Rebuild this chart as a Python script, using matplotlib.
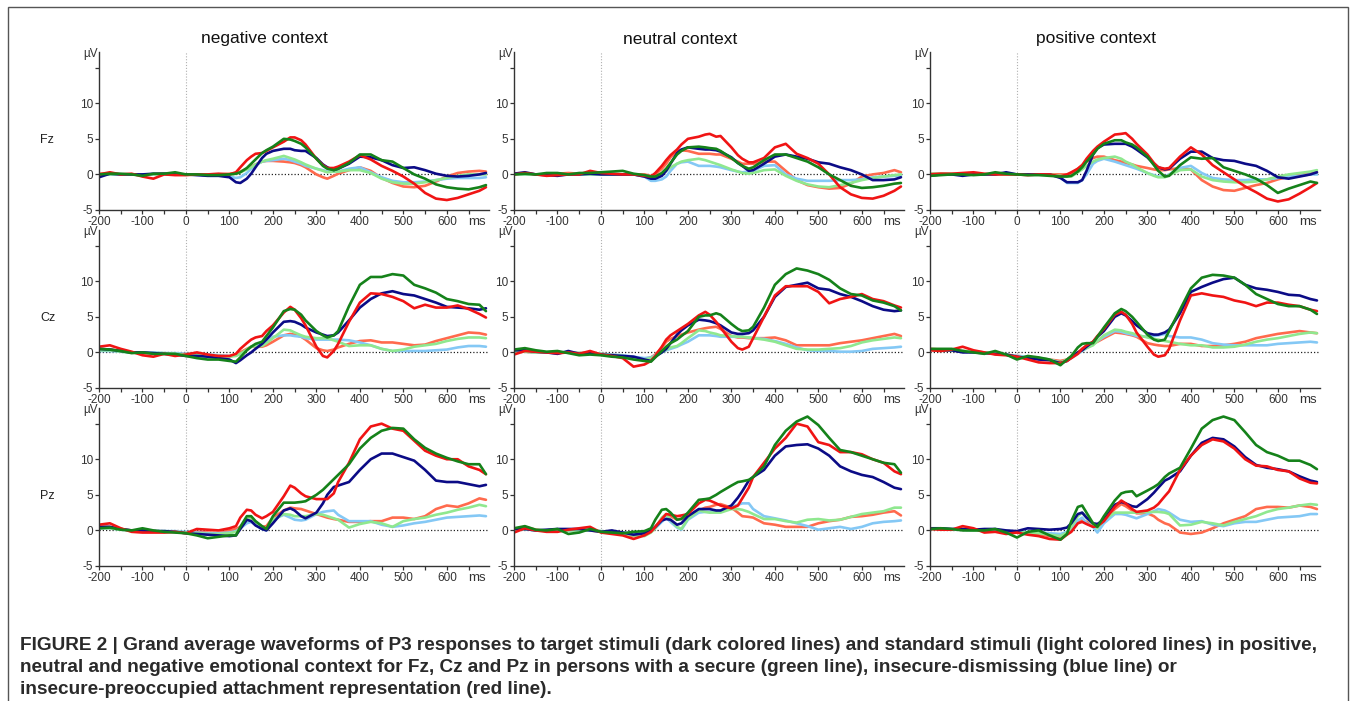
import matplotlib.pyplot as plt
import matplotlib.patches as patches
from matplotlib.ticker import MultipleLocator
import numpy as np

# sample times (ms)
t = [-200, -175, -150, -125, -100, -75, -50, -25, 0,
     25, 50, 75, 100, 115, 125, 140, 150, 160,
     175, 185, 200, 225, 240, 250, 265, 275, 300,
     315, 325, 340, 350, 375, 400, 425, 450, 475,
     500, 525, 550, 575, 600, 625, 650, 675, 690]

contexts = ["negative context", "neutral context", "positive context"]
leads = ["Fz", "Cz", "Pz"]

# target = dark lines, std = light lines
# pre = insecure-preoccupied (red), dis = insecure-dismissing (blue), sec = secure (green)

# ---------------- Fz ----------------
fz_neg = {
    "pre": [0.0, 0.3, 0.0, 0.1, -0.3, -0.6, 0.0, -0.1, -0.1,
            0.0, 0.0, 0.1, 0.0, 0.3, 1.0, 2.0, 2.5, 2.9,
            3.0, 3.3, 3.8, 4.6, 5.2, 5.2, 4.8, 4.2, 2.2,
            1.3, 0.9, 0.9, 1.1, 1.8, 2.7, 2.1, 1.2, 0.5,
            -0.3, -1.3, -2.6, -3.4, -3.6, -3.3, -2.8, -2.3, -1.8],
    "dis": [-0.4, 0.1, 0.0, 0.0, 0.0, 0.1, 0.1, 0.0, 0.0,
            -0.1, -0.2, -0.2, -0.4, -1.1, -1.2, -0.6, 0.1, 1.0,
            2.3, 2.9, 3.3, 3.6, 3.6, 3.4, 3.3, 3.3, 2.3,
            1.4, 1.0, 0.6, 0.8, 1.5, 2.5, 2.4, 2.0, 1.3,
            0.9, 1.0, 0.6, 0.1, -0.2, -0.3, -0.2, 0.0, 0.2],
    "sec": [0.0, 0.1, 0.1, 0.0, -0.2, 0.1, 0.1, 0.3, 0.0,
            0.0, -0.1, -0.1, 0.0, 0.1, 0.3, 0.9, 1.5, 2.1,
            3.0, 3.4, 3.9, 5.0, 4.9, 4.7, 4.3, 3.8, 2.2,
            1.2, 0.8, 0.6, 0.8, 1.6, 2.8, 2.8, 2.0, 1.8,
            0.9, 0.0, -0.6, -1.4, -1.8, -2.0, -2.1, -1.8, -1.5],
    "pre_std": [0.1, 0.1, 0.0, 0.0, 0.0, 0.0, 0.1, 0.0, 0.0,
                0.0, 0.0, 0.0, 0.1, 0.2, 0.4, 0.8, 1.1, 1.4,
                1.8, 1.9, 1.9, 1.8, 1.7, 1.6, 1.3, 1.0, 0.0,
                -0.4, -0.6, -0.2, 0.1, 0.6, 1.0, 0.5, -0.5, -1.2,
                -1.7, -1.8, -1.6, -1.0, -0.3, 0.2, 0.4, 0.5, 0.4],
    "dis_std": [0.0, 0.0, 0.0, 0.0, 0.0, 0.0, 0.0, 0.0, 0.0,
                0.0, 0.0, -0.1, -0.3, -0.5, -0.4, 0.2, 0.8, 1.3,
                1.8, 1.9, 2.0, 2.2, 2.0, 1.8, 1.5, 1.2, 0.8,
                0.6, 0.4, 0.4, 0.4, 0.8, 1.0, 0.3, -0.4, -0.9,
                -1.1, -1.1, -1.0, -0.8, -0.6, -0.5, -0.5, -0.5, -0.4],
    "sec_std": [0.0, 0.0, 0.0, 0.0, 0.0, 0.0, 0.0, 0.0, 0.0,
                0.0, 0.0, 0.0, 0.0, 0.1, 0.3, 0.7, 1.0, 1.4,
                1.8, 2.0, 2.2, 2.6, 2.3, 2.1, 1.7, 1.4, 0.8,
                0.5, 0.3, 0.4, 0.4, 0.6, 0.6, 0.2, -0.6, -1.1,
                -1.3, -1.3, -1.1, -0.8, -0.5, -0.2, 0.0, 0.0, 0.0],
}

fz_neu = {
    "pre": [0.0, 0.2, 0.0, -0.2, -0.1, 0.0, 0.0, 0.5, 0.2,
            0.1, 0.0, 0.0, -0.2, -0.3, 0.2, 1.2, 2.0, 2.7,
            3.5, 4.2, 5.0, 5.3, 5.6, 5.7, 5.3, 5.4, 3.8,
            2.7, 2.2, 1.7, 1.7, 2.3, 3.8, 4.3, 2.9, 2.3,
            1.5, 0.0, -1.8, -2.8, -3.3, -3.4, -3.0, -2.3, -1.7],
    "dis": [0.1, 0.3, 0.0, -0.1, -0.2, 0.0, 0.0, 0.1, 0.0,
            0.0, 0.0, 0.0, -0.3, -0.6, -0.6, -0.2, 0.5, 1.5,
            3.0, 3.5, 3.8, 3.6, 3.5, 3.5, 3.4, 3.2, 2.4,
            1.6, 1.2, 0.5, 0.6, 1.5, 2.5, 2.8, 2.5, 2.2,
            1.7, 1.5, 1.0, 0.6, 0.0, -0.8, -0.8, -0.7, -0.4],
    "sec": [0.0, 0.1, 0.0, 0.2, 0.2, 0.0, 0.2, 0.2, 0.3,
            0.4, 0.5, 0.1, -0.1, -0.3, -0.3, 0.2, 0.8, 1.6,
            2.8, 3.3, 3.8, 3.9, 3.8, 3.7, 3.6, 3.3, 2.3,
            1.6, 1.2, 0.8, 1.0, 2.0, 2.8, 2.8, 2.3, 1.8,
            1.0, 0.0, -0.8, -1.6, -1.9, -1.8, -1.6, -1.3, -1.2],
    "pre_std": [0.1, 0.1, 0.0, 0.0, 0.1, 0.2, 0.1, 0.2, 0.1,
                0.0, 0.0, 0.0, 0.0, -0.2, 0.0, 0.8, 1.5, 2.4,
                3.3, 3.4, 3.3, 2.9, 2.9, 2.9, 2.8, 2.8, 2.2,
                1.8, 1.5, 1.5, 1.5, 1.8, 1.8, 0.5, -0.8, -1.5,
                -1.8, -2.0, -1.9, -1.3, -0.3, 0.0, 0.2, 0.6, 0.3],
    "dis_std": [0.0, 0.0, 0.0, 0.0, 0.0, 0.0, 0.0, 0.0, 0.0,
                0.0, 0.0, 0.0, -0.3, -0.9, -0.9, -0.7, -0.3, 0.5,
                1.5, 1.7, 1.8, 1.2, 1.2, 1.2, 1.1, 1.0, 0.6,
                0.4, 0.3, 0.4, 0.5, 1.2, 1.3, 0.0, -0.6, -0.9,
                -0.9, -0.9, -0.8, -0.8, -0.7, -0.4, -0.3, -0.2, -0.2],
    "sec_std": [0.0, 0.0, 0.0, 0.0, 0.0, 0.0, 0.0, 0.0, 0.0,
                0.0, 0.0, 0.0, -0.2, -0.5, -0.5, 0.0, 0.5, 1.0,
                1.5, 1.8, 2.0, 2.2, 2.0, 1.8, 1.5, 1.3, 0.7,
                0.4, 0.2, 0.1, 0.2, 0.6, 0.7, -0.2, -0.9, -1.4,
                -1.7, -1.8, -1.5, -1.2, -0.8, -0.5, -0.3, -0.1, 0.0],
}

fz_pos = {
    "pre": [0.0, 0.1, 0.1, 0.2, 0.3, 0.1, 0.0, 0.0, 0.0,
            -0.1, 0.0, 0.0, -0.3, 0.0, 0.3, 0.8, 1.3, 2.2,
            3.3, 3.9, 4.6, 5.6, 5.7, 5.8, 5.0, 4.3, 2.8,
            1.6, 1.0, 0.8, 0.9, 2.5, 3.8, 2.8, 1.3, 0.3,
            -0.7, -1.7, -2.5, -3.4, -3.8, -3.5, -2.7, -1.8, -1.2],
    "dis": [-0.2, 0.0, 0.0, -0.2, 0.0, 0.0, 0.0, 0.3, 0.0,
            0.0, 0.0, 0.0, -0.5, -1.1, -1.1, -1.1, -0.8, 0.5,
            2.8, 3.7, 4.2, 4.3, 4.3, 4.3, 3.9, 3.5, 2.4,
            1.5, 1.0, 0.7, 0.8, 2.2, 3.2, 3.2, 2.3, 2.0,
            1.9, 1.5, 1.2, 0.5, -0.4, -0.6, -0.3, 0.0, 0.3],
    "sec": [-0.2, -0.1, 0.0, 0.0, -0.1, 0.0, 0.3, 0.1, 0.0,
            -0.1, -0.1, -0.2, -0.3, -0.3, -0.2, 0.4, 1.0, 1.8,
            2.8, 3.6, 4.3, 4.8, 4.8, 4.5, 4.2, 3.8, 2.5,
            1.3, 0.5, -0.3, -0.2, 1.3, 2.4, 2.2, 2.3, 1.0,
            0.5, 0.0, -0.6, -1.5, -2.6, -2.0, -1.5, -1.0, -1.2],
    "pre_std": [0.1, 0.1, 0.0, 0.0, 0.0, 0.0, 0.0, 0.0, 0.0,
                0.0, 0.0, 0.0, 0.0, 0.0, 0.0, 0.8, 1.3, 1.8,
                2.3, 2.5, 2.5, 2.0, 1.8, 1.6, 1.4, 1.2, 0.9,
                0.7, 0.6, 0.6, 0.7, 0.9, 0.7, -0.8, -1.7, -2.2,
                -2.3, -1.9, -1.5, -1.2, -0.7, -0.3, 0.0, 0.3, 0.3],
    "dis_std": [0.0, 0.0, 0.0, 0.0, 0.0, 0.0, 0.0, 0.0, 0.0,
                0.0, 0.0, 0.0, -0.4, -1.2, -1.2, -1.2, -0.8, 0.0,
                1.5, 1.9, 2.2, 1.8, 1.5, 1.3, 1.0, 0.8, 0.2,
                -0.1, -0.3, -0.3, 0.0, 0.9, 1.2, 0.2, -0.5, -0.7,
                -0.8, -0.8, -0.7, -0.7, -0.5, -0.3, -0.2, 0.0, 0.0],
    "sec_std": [0.1, 0.1, 0.1, 0.0, 0.0, 0.0, 0.0, 0.0, 0.0,
                0.0, 0.0, 0.0, -0.2, -0.3, -0.3, 0.3, 0.7, 1.2,
                1.8, 2.1, 2.3, 2.5, 2.2, 1.8, 1.4, 1.0, 0.2,
                -0.2, -0.4, -0.4, -0.1, 0.6, 0.7, -0.3, -0.8, -1.0,
                -1.1, -1.1, -1.0, -0.7, -0.3, 0.0, 0.2, 0.4, 0.6],
}

# ---------------- Cz ----------------
cz_neg = {
    "pre": [0.8, 1.0, 0.5, 0.1, -0.4, -0.6, -0.2, -0.5, -0.3,
            0.0, -0.3, -0.5, -0.5, -0.2, 0.5, 1.3, 1.8, 2.1,
            2.3, 3.0, 3.8, 5.6, 6.4, 6.0, 4.8, 3.8, 0.8,
            -0.5, -0.7, 0.2, 1.2, 4.3, 7.0, 8.3, 8.2, 7.8,
            7.2, 6.2, 6.7, 6.3, 6.3, 6.6, 6.1, 5.4, 4.9],
    "dis": [0.5, 0.4, 0.2, 0.0, 0.0, -0.1, -0.2, -0.3, -0.5,
            -0.5, -0.6, -0.8, -1.0, -1.5, -1.1, -0.4, 0.0, 0.5,
            1.2, 1.8, 2.8, 4.3, 4.4, 4.3, 3.9, 3.5, 2.8,
            2.5, 2.3, 2.4, 2.8, 4.5, 6.3, 7.5, 8.3, 8.6,
            8.2, 8.0, 7.5, 7.0, 6.4, 6.3, 6.2, 6.0, 6.2],
    "sec": [0.5, 0.4, 0.2, -0.1, 0.0, -0.2, -0.2, -0.2, -0.5,
            -0.8, -1.0, -1.0, -1.2, -1.3, -0.7, 0.3, 0.8, 1.2,
            1.5, 2.3, 3.5, 5.8, 6.1, 6.0, 5.3, 4.5, 3.0,
            2.4, 2.1, 2.4, 3.0, 6.5, 9.5, 10.6, 10.6, 11.0,
            10.8, 9.5, 9.0, 8.4, 7.5, 7.2, 6.8, 6.7, 5.8],
    "pre_std": [0.4, 0.4, 0.2, 0.0, -0.1, -0.1, -0.2, -0.2, -0.2,
                -0.3, -0.4, -0.5, -0.6, -0.3, 0.0, 0.5, 0.8, 0.8,
                0.8, 1.0, 1.5, 2.4, 2.6, 2.5, 2.2, 1.8, 0.6,
                0.3, 0.2, 0.4, 0.7, 1.2, 1.6, 1.7, 1.4, 1.4,
                1.2, 1.0, 1.1, 1.6, 2.0, 2.4, 2.8, 2.7, 2.5],
    "dis_std": [0.2, 0.2, 0.1, 0.0, 0.0, 0.0, -0.1, -0.1, -0.2,
                -0.3, -0.3, -0.4, -0.5, -0.4, -0.3, 0.3, 0.8, 1.0,
                1.2, 1.6, 2.2, 2.4, 2.4, 2.3, 2.2, 2.0, 1.8,
                1.8, 1.8, 1.8, 1.8, 1.7, 1.4, 1.0, 0.5, 0.2,
                0.2, 0.2, 0.2, 0.3, 0.4, 0.7, 0.9, 0.9, 0.8],
    "sec_std": [0.3, 0.3, 0.1, 0.0, 0.0, -0.1, -0.1, -0.2, -0.3,
                -0.4, -0.5, -0.5, -0.6, -0.5, -0.2, 0.4, 0.8, 0.9,
                0.9, 1.3, 2.0, 3.2, 3.1, 2.8, 2.4, 2.2, 2.0,
                2.0, 2.0, 1.7, 1.5, 0.9, 1.0, 1.0, 0.5, 0.2,
                0.4, 0.8, 1.0, 1.2, 1.6, 1.9, 2.1, 2.1, 2.0],
}

cz_neu = {
    "pre": [-0.3, 0.2, 0.1, 0.0, -0.1, 0.0, -0.2, 0.2, -0.3,
            -0.5, -0.8, -2.0, -1.7, -1.2, -0.5, 0.8, 1.8, 2.4,
            3.0, 3.4, 4.0, 5.2, 5.7, 5.3, 4.3, 3.5, 1.5,
            0.6, 0.4, 0.8, 2.0, 5.0, 8.0, 9.3, 9.3, 9.3,
            8.5, 6.9, 7.5, 7.8, 8.2, 7.5, 7.2, 6.6, 6.3],
    "dis": [0.3, 0.3, 0.1, 0.0, -0.2, 0.2, -0.2, -0.1, -0.3,
            -0.4, -0.5, -0.6, -1.0, -1.2, -0.6, 0.0, 0.5, 1.3,
            2.5, 3.1, 3.8, 4.6, 4.5, 4.4, 4.1, 3.8, 2.8,
            2.6, 2.6, 2.7, 3.1, 5.0, 7.8, 9.2, 9.5, 9.8,
            9.0, 8.8, 8.2, 7.8, 7.2, 6.5, 6.0, 5.8, 5.9],
    "sec": [0.4, 0.6, 0.3, 0.1, 0.2, -0.1, -0.4, -0.3, -0.4,
            -0.6, -0.7, -1.0, -1.2, -1.3, -0.7, 0.2, 0.8, 1.3,
            1.8, 2.3, 3.0, 5.0, 5.2, 5.2, 5.5, 5.3, 4.0,
            3.3, 3.0, 3.1, 3.6, 6.3, 9.5, 11.0, 11.8, 11.5,
            11.0, 10.2, 9.0, 8.2, 8.0, 7.3, 7.0, 6.5, 5.9],
    "pre_std": [0.1, 0.1, 0.0, 0.0, -0.1, 0.0, -0.1, 0.0, -0.2,
                -0.3, -0.5, -0.7, -0.9, -0.7, -0.3, 0.7, 1.5, 1.9,
                2.3, 2.5, 2.8, 3.2, 3.4, 3.5, 3.6, 3.3, 2.3,
                2.1, 2.1, 2.0, 2.0, 2.0, 2.1, 1.7, 1.0, 1.0,
                1.0, 1.0, 1.3, 1.5, 1.7, 2.0, 2.3, 2.6, 2.3],
    "dis_std": [0.1, 0.1, 0.0, 0.0, 0.0, 0.0, -0.1, -0.1, -0.2,
                -0.3, -0.4, -0.6, -0.8, -0.7, -0.4, 0.0, 0.3, 0.5,
                0.8, 1.1, 1.5, 2.4, 2.4, 2.4, 2.3, 2.2, 2.2,
                2.2, 2.2, 2.1, 2.0, 1.9, 1.6, 1.2, 0.7, 0.3,
                0.2, 0.2, 0.1, 0.1, 0.2, 0.5, 0.6, 0.7, 0.8],
    "sec_std": [0.1, 0.1, 0.0, 0.0, 0.0, 0.0, -0.1, -0.1, -0.2,
                -0.4, -0.5, -0.8, -1.0, -0.8, -0.5, 0.0, 0.4, 0.7,
                0.9, 1.3, 2.0, 3.1, 3.0, 2.8, 2.6, 2.4, 2.3,
                2.2, 2.2, 2.1, 2.0, 1.8, 1.5, 1.0, 0.5, 0.4,
                0.4, 0.5, 0.6, 0.9, 1.4, 1.7, 1.9, 2.1, 2.0],
}

cz_pos = {
    "pre": [0.3, 0.2, 0.4, 0.8, 0.3, 0.0, -0.3, -0.4, -0.6,
            -1.0, -1.4, -1.5, -1.5, -1.2, -0.8, -0.2, 0.5, 1.0,
            1.5, 2.3, 3.3, 5.3, 5.7, 5.3, 4.0, 2.8, 0.8,
            -0.3, -0.6, -0.4, 0.5, 4.5, 8.0, 8.3, 8.0, 7.8,
            7.3, 7.0, 6.5, 7.0, 7.0, 6.7, 6.5, 6.0, 5.8],
    "dis": [0.4, 0.3, 0.3, 0.0, 0.0, -0.1, -0.2, -0.3, -0.6,
            -0.8, -1.0, -1.1, -1.5, -1.2, -0.7, 0.0, 0.3, 0.8,
            1.5, 2.2, 3.0, 5.0, 5.5, 5.2, 4.4, 3.8, 2.7,
            2.5, 2.5, 2.8, 3.2, 5.5, 8.5, 9.2, 9.8, 10.3,
            10.5, 9.5, 9.0, 8.8, 8.5, 8.1, 8.0, 7.5, 7.3],
    "sec": [0.5, 0.5, 0.5, 0.2, 0.0, -0.2, 0.2, -0.3, -1.0,
            -0.5, -0.7, -1.0, -1.8, -1.0, -0.5, 0.7, 1.2, 1.3,
            1.3, 2.2, 3.5, 5.5, 6.1, 5.8, 5.0, 4.3, 2.5,
            1.8, 1.6, 1.8, 3.0, 6.0, 9.0, 10.5, 10.9, 10.8,
            10.5, 9.5, 8.2, 7.5, 6.8, 6.5, 6.5, 6.0, 5.4],
    "pre_std": [0.5, 0.4, 0.3, 0.2, 0.1, 0.0, -0.2, -0.3, -0.5,
                -0.6, -0.8, -1.0, -1.2, -1.0, -0.6, 0.0, 0.5, 0.8,
                1.2, 1.5, 2.0, 2.8, 2.7, 2.6, 2.4, 2.2, 1.3,
                1.1, 1.0, 0.9, 0.9, 1.2, 1.2, 0.9, 0.9, 1.0,
                1.2, 1.5, 2.0, 2.3, 2.6, 2.8, 3.0, 2.8, 2.7],
    "dis_std": [0.4, 0.3, 0.3, 0.2, 0.1, 0.0, -0.1, -0.3, -0.5,
                -0.6, -0.8, -1.0, -1.5, -1.1, -0.8, -0.2, 0.2, 0.6,
                1.2, 1.6, 2.2, 3.0, 2.9, 2.7, 2.5, 2.3, 2.2,
                2.3, 2.4, 2.6, 2.3, 2.1, 2.1, 1.8, 1.3, 1.1,
                1.0, 1.0, 1.0, 1.0, 1.2, 1.3, 1.4, 1.5, 1.4],
    "sec_std": [0.4, 0.3, 0.3, 0.2, 0.1, 0.0, -0.1, -0.3, -0.6,
                -0.7, -0.8, -1.0, -1.4, -1.0, -0.7, -0.1, 0.3, 0.6,
                1.0, 1.6, 2.4, 3.2, 3.1, 2.9, 2.7, 2.5, 2.1,
                1.9, 1.8, 1.6, 1.5, 1.2, 1.0, 1.0, 0.7, 0.7,
                0.8, 1.1, 1.5, 1.8, 2.0, 2.3, 2.6, 2.8, 2.7],
}

# ---------------- Pz ----------------
pz_neg = {
    "pre": [0.8, 1.0, 0.3, -0.2, -0.3, -0.3, -0.3, -0.2, -0.4,
            0.2, 0.1, 0.0, 0.3, 0.6, 1.8, 2.9, 2.8, 2.2,
            1.7, 2.0, 2.6, 4.8, 6.3, 6.0, 5.2, 4.8, 4.4,
            4.4, 4.4, 5.2, 6.8, 9.5, 12.8, 14.6, 15.0, 14.3,
            14.0, 12.6, 11.2, 10.5, 10.0, 10.0, 9.0, 8.5, 7.9],
    "dis": [0.5, 0.5, 0.2, 0.0, 0.0, -0.1, -0.1, -0.2, -0.4,
            -0.5, -0.6, -0.7, -0.8, -0.7, 0.2, 1.5, 1.3, 0.7,
            0.2, 0.0, 1.0, 2.8, 3.1, 2.8, 2.0, 1.7, 2.5,
            3.8, 5.0, 6.1, 6.3, 6.8, 8.5, 10.0, 10.8, 10.8,
            10.3, 9.8, 8.5, 7.0, 6.8, 6.8, 6.5, 6.2, 6.4],
    "sec": [0.3, 0.4, 0.1, 0.0, 0.3, 0.0, -0.2, -0.3, -0.4,
            -0.7, -1.1, -0.9, -0.7, -0.7, 0.5, 2.0, 2.0, 1.3,
            0.6, 0.2, 2.0, 3.9, 3.9, 3.9, 4.0, 4.1, 5.0,
            5.7, 6.3, 7.2, 7.8, 9.3, 11.5, 13.0, 14.0, 14.4,
            14.3, 12.8, 11.6, 10.8, 10.2, 9.7, 9.3, 9.3, 7.9],
    "pre_std": [0.5, 0.5, 0.2, 0.0, 0.0, -0.1, -0.2, -0.2, -0.3,
                -0.2, -0.3, -0.4, 0.0, 0.2, 0.5, 1.5, 1.8, 1.2,
                0.5, 0.6, 1.8, 2.8, 3.2, 3.1, 3.0, 2.8, 2.3,
                2.0, 1.8, 1.6, 1.5, 1.2, 1.2, 1.3, 1.3, 1.8,
                1.8, 1.6, 2.0, 3.0, 3.5, 3.3, 3.8, 4.5, 4.3],
    "dis_std": [0.3, 0.3, 0.1, 0.0, 0.0, -0.1, -0.1, -0.1, -0.2,
                -0.3, -0.4, -0.4, -0.3, -0.1, 0.3, 1.0, 1.2, 0.8,
                0.2, 0.0, 1.5, 2.2, 1.8, 1.5, 1.4, 1.5, 2.3,
                2.6, 2.7, 2.8, 2.2, 1.3, 1.3, 1.3, 0.8, 0.5,
                0.7, 1.0, 1.2, 1.5, 1.8, 1.9, 2.0, 2.1, 2.0],
    "sec_std": [0.3, 0.3, 0.1, 0.0, 0.0, -0.1, -0.1, -0.2, -0.3,
                -0.4, -0.5, -0.5, -0.4, -0.2, 0.3, 1.5, 1.8, 1.2,
                0.4, 0.2, 1.5, 2.3, 2.2, 2.0, 2.0, 2.0, 2.3,
                2.2, 2.0, 1.7, 1.5, 0.4, 0.9, 1.2, 1.0, 0.5,
                1.3, 1.6, 1.8, 2.2, 2.5, 2.9, 3.2, 3.6, 3.4],
}

pz_neu = {
    "pre": [-0.3, 0.3, 0.0, -0.2, -0.2, 0.1, 0.3, 0.5, -0.3,
            -0.5, -0.7, -1.2, -0.7, -0.2, 0.5, 1.6, 2.3, 2.2,
            2.0, 2.1, 2.3, 3.8, 4.3, 4.2, 3.8, 3.5, 3.1,
            3.5, 4.5, 6.0, 7.5, 9.5, 11.5, 13.0, 15.0, 14.6,
            12.4, 12.0, 11.0, 11.0, 10.7, 10.0, 9.5, 8.3, 7.9],
    "dis": [0.2, 0.2, 0.0, 0.1, 0.2, 0.2, 0.2, 0.0, -0.2,
            0.0, -0.3, -0.6, -0.4, 0.0, 0.5, 1.4, 1.6, 1.5,
            0.8, 1.0, 2.0, 3.0, 3.0, 3.0, 2.8, 2.8, 3.5,
            4.6, 5.5, 7.0, 7.5, 8.5, 10.5, 11.8, 12.0, 12.1,
            11.5, 10.5, 9.0, 8.3, 7.8, 7.5, 6.8, 6.0, 5.8],
    "sec": [0.3, 0.6, 0.1, 0.0, 0.2, -0.5, -0.3, 0.2, -0.2,
            -0.3, -0.4, -0.2, -0.1, 0.3, 1.5, 2.9, 3.0, 2.5,
            1.5, 1.6, 2.5, 4.3, 4.4, 4.5, 5.0, 5.4, 6.3,
            6.8, 6.9, 7.1, 7.5, 9.0, 12.0, 14.0, 15.3, 16.0,
            14.8, 13.0, 11.3, 11.0, 10.5, 10.0, 9.5, 9.3, 8.1],
    "pre_std": [0.0, 0.5, 0.1, -0.1, 0.0, 0.1, 0.1, 0.0, -0.2,
                -0.3, -0.5, -0.8, -0.5, -0.1, 0.5, 1.6, 2.2, 2.0,
                1.5, 1.7, 2.0, 2.8, 3.2, 3.3, 3.6, 3.7, 3.2,
                2.5, 2.0, 1.9, 1.8, 1.0, 0.8, 0.5, 0.5, 0.5,
                1.0, 1.3, 1.5, 1.9, 2.0, 2.2, 2.5, 2.7, 2.1],
    "dis_std": [0.1, 0.2, 0.0, 0.0, 0.0, 0.0, 0.0, 0.0, -0.1,
                -0.2, -0.3, -0.4, -0.4, -0.1, 0.3, 1.2, 1.8, 1.2,
                0.4, 0.1, 1.5, 2.5, 2.6, 2.6, 2.7, 2.7, 3.3,
                3.6, 3.8, 3.8, 3.0, 2.0, 1.7, 1.4, 1.0, 0.6,
                0.1, 0.3, 0.5, 0.2, 0.5, 1.0, 1.2, 1.3, 1.4],
    "sec_std": [0.1, 0.2, 0.0, 0.0, 0.0, 0.0, 0.0, 0.0, -0.1,
                -0.3, -0.5, -0.7, -0.8, -0.3, 0.3, 1.8, 2.3, 1.5,
                0.5, 0.2, 1.6, 2.8, 2.6, 2.5, 2.5, 2.5, 3.0,
                3.0, 2.9, 2.6, 2.3, 1.6, 1.6, 1.3, 1.1, 1.5,
                1.6, 1.4, 1.5, 1.9, 2.3, 2.5, 2.7, 3.2, 3.2],
}

pz_pos = {
    "pre": [0.2, 0.1, 0.1, 0.6, 0.3, -0.3, -0.2, -0.5, -0.3,
            -0.6, -0.8, -1.2, -1.3, -0.6, -0.2, 1.0, 1.2, 0.9,
            0.5, 0.6, 1.3, 3.3, 4.2, 3.8, 3.0, 2.6, 2.8,
            3.2, 3.7, 4.8, 5.5, 8.5, 10.5, 12.0, 12.8, 12.5,
            11.5, 10.0, 9.1, 9.0, 8.5, 8.3, 7.3, 6.7, 6.6],
    "dis": [0.3, 0.3, 0.2, 0.2, 0.1, 0.2, 0.2, 0.0, -0.1,
            0.3, 0.2, 0.1, 0.2, 0.4, 1.0, 2.3, 2.5, 1.8,
            1.0, 0.9, 1.5, 3.6, 4.0, 3.8, 3.4, 3.3, 4.4,
            5.3, 6.0, 7.0, 7.3, 8.3, 10.5, 12.3, 13.0, 12.8,
            11.8, 10.3, 9.2, 8.8, 8.6, 8.3, 7.6, 7.0, 6.8],
    "sec": [0.2, 0.3, 0.2, 0.0, 0.0, 0.0, 0.2, -0.3, -1.0,
            -0.2, 0.0, -0.7, -1.3, -0.5, 1.3, 3.3, 3.5, 2.5,
            1.0, 0.5, 2.0, 4.2, 5.2, 5.4, 5.5, 4.8, 5.6,
            6.1, 6.5, 7.5, 8.0, 8.8, 11.5, 14.3, 15.5, 16.0,
            15.5, 13.8, 12.0, 11.0, 10.5, 9.8, 9.8, 9.2, 8.6],
    "pre_std": [0.3, 0.2, 0.1, 0.2, 0.1, 0.0, -0.1, -0.2, -0.3,
                -0.4, -0.5, -0.8, -1.0, -0.5, 0.0, 1.2, 1.5, 1.2,
                0.7, 0.8, 1.5, 3.0, 3.7, 3.4, 2.8, 2.4, 2.4,
                2.0, 1.5, 1.0, 0.8, -0.3, -0.5, -0.3, 0.3, 1.0,
                1.5, 2.0, 3.0, 3.3, 3.3, 3.2, 3.5, 3.3, 3.0],
    "dis_std": [0.2, 0.2, 0.1, 0.1, 0.0, 0.0, -0.1, -0.1, -0.2,
                -0.2, -0.3, -0.4, -0.5, -0.2, 0.3, 1.4, 1.8, 1.0,
                0.5, -0.3, 1.0, 2.3, 2.3, 2.2, 1.9, 1.7, 2.3,
                2.7, 3.0, 2.8, 2.5, 1.5, 1.2, 1.3, 0.8, 0.6,
                1.0, 1.2, 1.2, 1.5, 1.8, 1.9, 2.0, 2.3, 2.3],
    "sec_std": [0.2, 0.2, 0.1, 0.1, 0.0, 0.0, -0.1, -0.1, -0.2,
                -0.3, -0.4, -0.6, -0.8, -0.3, 0.5, 2.0, 2.5, 1.8,
                0.8, 0.3, 1.5, 2.5, 2.5, 2.5, 2.5, 2.5, 2.6,
                2.6, 2.6, 2.5, 2.3, 0.7, 0.8, 1.2, 1.0, 0.7,
                1.2, 1.6, 2.0, 2.6, 3.0, 3.2, 3.5, 3.7, 3.6],
}

panels = [[fz_neg, fz_neu, fz_pos],
          [cz_neg, cz_neu, cz_pos],
          [pz_neg, pz_neu, pz_pos]]

# draw order: light (standard) first, then dark (target)
styles = [("pre_std", "#ff6a4d"), ("dis_std", "#84c8f5"), ("sec_std", "#8fe88f"),
          ("dis", "#0b0b86"), ("pre", "#f01414"), ("sec", "#15821a")]

caption_lines = [
    "FIGURE 2 | Grand average waveforms of P3 responses to target stimuli (dark colored lines) "
    "and standard stimuli (light colored lines) in positive,",
    "neutral and negative emotional context for Fz, Cz and Pz in persons with a secure "
    "(green line), insecure-dismissing (blue line) or",
    "insecure-preoccupied attachment representation (red line).",
]

W, H = 1356, 701
plt.rcParams['font.family'] = ['Liberation Sans', 'DejaVu Sans']
plt.rcParams['axes.unicode_minus'] = False
fig = plt.figure(figsize=(W / 100, H / 100), dpi=100)

col_left = [99, 514, 930]
row_bottom = [210, 388, 566]
ax_w, ax_h = 390, 158
tick_color = "#333333"

for r in range(3):
    for c in range(3):
        ax = fig.add_axes([col_left[c] / W, 1 - row_bottom[r] / H, ax_w / W, ax_h / H])
        data = panels[r][c]
        ax.axhline(0, color="#222222", lw=0.9, ls=(0, (1, 1.6)), zorder=1)
        ax.axvline(0, color="#b0b0b0", lw=0.8, ls=(0, (1, 1.6)), zorder=1)
        for key, col in styles:
            ax.plot(t, data[key], color=col, lw=1.9, solid_joinstyle="round",
                    solid_capstyle="round", zorder=2)
        ax.set_xlim(-200, 697)
        ax.set_ylim(-5, 17.2)
        for s in ["top", "right"]:
            ax.spines[s].set_visible(False)
        for s in ["left", "bottom"]:
            ax.spines[s].set_color(tick_color)
            ax.spines[s].set_linewidth(1.0)
        ax.xaxis.set_minor_locator(MultipleLocator(50))
        ax.set_xticks(range(-200, 601, 100))
        ax.set_yticks([-5, 0, 5, 10, 15])
        ax.set_yticklabels(["-5", "0", "5", "10", ""])
        ax.tick_params(axis="both", which="both", direction="out", length=3,
                       width=0.9, color=tick_color, labelcolor=tick_color,
                       labelsize=8.5, pad=1)
        ax.text(-0.004, 0.985, "µV", transform=ax.transAxes, ha="right", va="center",
                fontsize=8.5, color=tick_color)
        ax.text(0.97, -0.075, "ms", transform=ax.transAxes, ha="center", va="center",
                fontsize=9.5, color=tick_color)
        ax.patch.set_alpha(0)
        if r == 0:
            ax.text(0.425, 1.0 + 13 / ax_h, contexts[c], transform=ax.transAxes,
                    ha="center", va="center", fontsize=12.5, color="#111111")
        if c == 0:
            fig.text(40 / W, 1 - (row_bottom[r] - 70) / H, leads[r], ha="left",
                     va="center", fontsize=9, color="#222222")

# outer frame
fig.add_artist(patches.Rectangle((8 / W, -0.05), 1340 / W, 1.05 - 7 / H,
                                 transform=fig.transFigure, fill=False,
                                 edgecolor="#555555", lw=1.0))

for i, line in enumerate(caption_lines):
    fig.text(20 / W, 1 - (645 + 22 * i) / H, line, ha="left", va="center",
             fontsize=13.7, fontweight="bold", color="#2a2a2a")

fig.savefig("out.png", dpi=100)
